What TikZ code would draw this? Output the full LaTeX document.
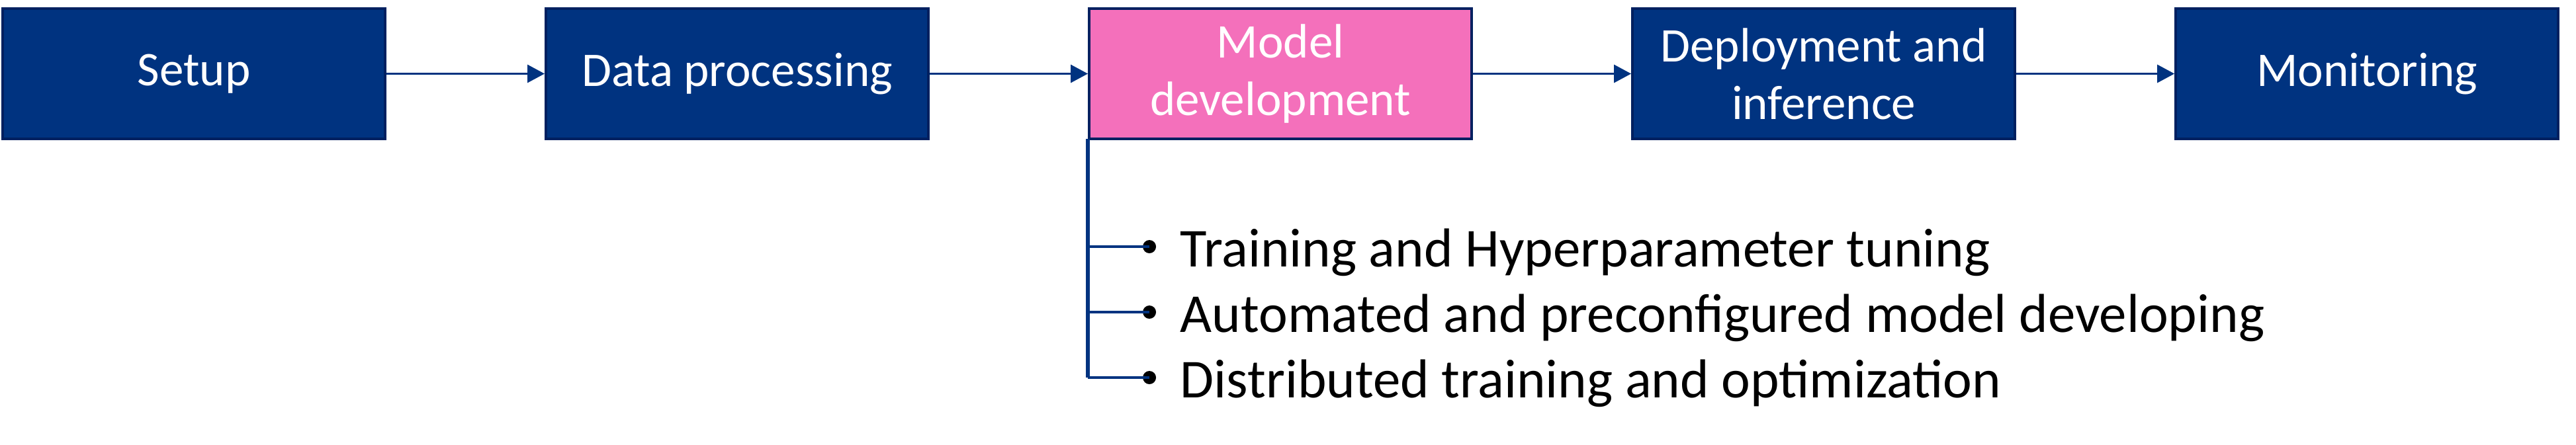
\documentclass[tikz,border=0pt]{standalone}
\usepackage{fontspec}
\setmainfont{Carlito}
\usepackage{tikz}
\usetikzlibrary{positioning, arrows.meta, calc}
\definecolor{azulEtapa}{RGB}{0,51,128}
\definecolor{azulBorde}{RGB}{0,32,96}
\definecolor{rosaEtapa}{RGB}{244,112,187}
\tikzset{
  stage/.style={rectangle, minimum width=5.78cm, minimum height=1.97cm, align=center, draw=azulBorde, line width=1.15pt, fill=azulEtapa, text=white, font=\fontsize{20.8}{24.8}\selectfont},
  active/.style={stage, fill=rosaEtapa},
  arrow/.style={draw=azulEtapa, line width=0.95pt, -{Triangle[length=0.26cm, width=0.27cm]}},
  trunk/.style={draw=azulEtapa, line width=1.6pt},
  branch/.style={draw=azulEtapa, line width=1.2pt},
  bullet/.style={circle, fill=black, minimum size=0.2cm, inner sep=0pt},
  item/.style={anchor=base west, inner sep=0pt, font=\fontsize{23.6}{28}\selectfont}
}

\begin{document}
\begin{tikzpicture}[node distance=2.39cm]

    \useasboundingbox (0,0) rectangle (38.93,-6.73);

    % 1. Etapas del flujo
    \node[stage] (setup) at (2.93,-1.115) {Setup};
    \node[stage, right=of setup] (data) {Data processing};
    \node[active, right=of data] (model) {Model\\development};
    \node[stage, right=of model] (deploy) {Deployment and\\inference};
    \node[stage, right=of deploy] (monitor) {Monitoring};

    % Flechas entre etapas
    \draw[arrow] (setup) -- (data);
    \draw[arrow] (data) -- (model);
    \draw[arrow] (model) -- (deploy);
    \draw[arrow] (deploy) -- (monitor);

    % 2. Detalle de Model development
    \foreach \k/\txt in {
        1/Training and Hyperparameter tuning,
        2/Automated and preconfigured model developing,
        3/Distributed training and optimization
    } {
        \node[bullet] (p\k) at ($(model.south west)+(0.93,-0.62-0.99*\k)$) {};
        \node[item] (t\k) at ($(p\k)+(0.46,-0.30)$) {\txt};
    }

    % Tronco vertical y ramas
    \draw[branch] (p1.center) -- (p1.center -| model.south west);
    \draw[branch] (p2.center) -- (p2.center -| model.south west);
    \draw[branch] (p3.center) -- (p3.center -| model.south west);
    \draw[trunk] ([yshift=0.6pt]model.south west) -- (p3.center -| model.south west);

\end{tikzpicture}
\end{document}
